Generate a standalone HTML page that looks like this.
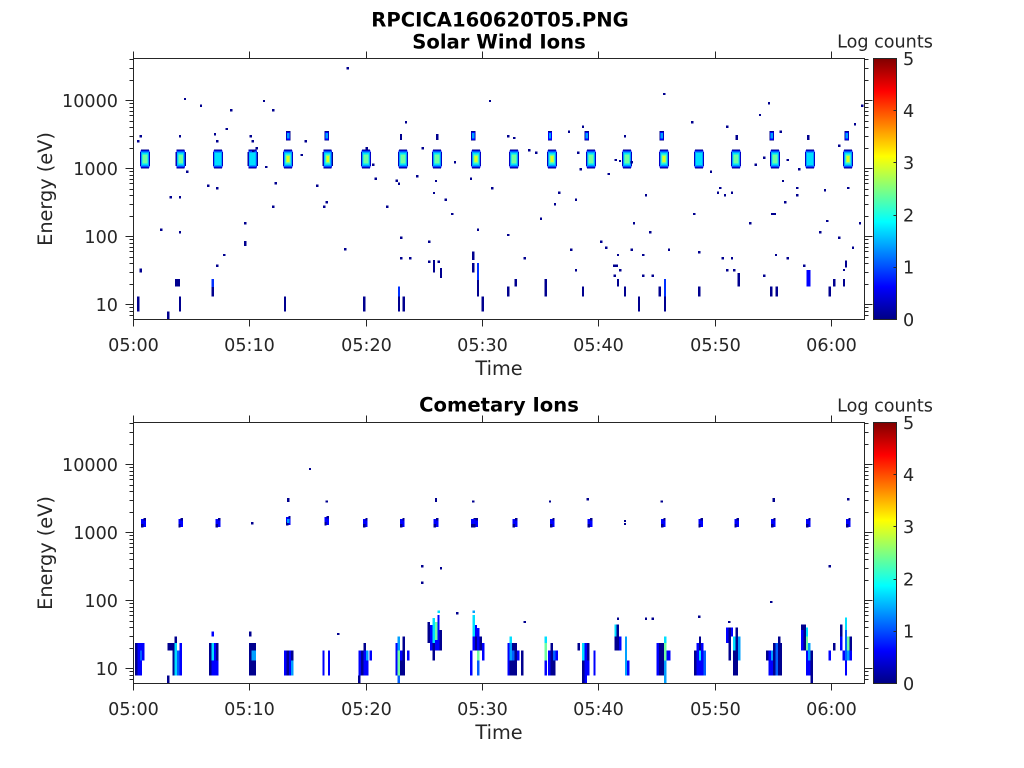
<!DOCTYPE html>
<html>
<head>
<meta charset="utf-8">
<style>
html,body{margin:0;padding:0;background:#fff;}
svg{display:block;}
text{font-family:"DejaVu Sans","Liberation Sans",sans-serif;fill:#262626;}
.tk{font-size:17.6px;}
.tb{font-size:19.6px;font-weight:bold;text-anchor:middle;fill:#000;}
.lb{font-size:19.3px;text-anchor:middle;}
.d{fill:#00008f}.b{fill:#0000ff}.m{fill:#0060ff}.l{fill:#00a0ff}.c{fill:#00e0ff}.g{fill:#70ffa0}.y{fill:#e0ff20}
</style>
</head>
<body>
<svg width="1024" height="768" viewBox="0 0 1024 768" xmlns="http://www.w3.org/2000/svg" shape-rendering="crispEdges">
<defs>
<linearGradient id="jet" x1="0" y1="1" x2="0" y2="0">
<stop offset="0" stop-color="#000084"/>
<stop offset="0.125" stop-color="#0000ff"/>
<stop offset="0.375" stop-color="#00ffff"/>
<stop offset="0.625" stop-color="#ffff00"/>
<stop offset="0.875" stop-color="#ff0000"/>
<stop offset="1" stop-color="#800000"/>
</linearGradient>
<g id="frame" fill="none" stroke="#262626" stroke-width="1">
<path d="M133.5 58.5H864.5V319.5H133.5Z"/>
<path d="M133.5 319.5v7M249.5 319.5v7M366.5 319.5v7M482.5 319.5v7M598.5 319.5v7M715.5 319.5v7M831.5 319.5v7M133.5 58.5v-7M249.5 58.5v-7M366.5 58.5v-7M482.5 58.5v-7M598.5 58.5v-7M715.5 58.5v-7M831.5 58.5v-7"/>
<path d="M125.5 100.5h8M125.5 168.5h8M125.5 236.5h8M125.5 304.5h8M864.5 100.5h8M864.5 168.5h8M864.5 236.5h8M864.5 304.5h8"/>
<path d="M129.5 59.5h4M129.5 68.5h4M129.5 80.5h4M129.5 103.5h4M129.5 107.5h4M129.5 111.5h4M129.5 115.5h4M129.5 121.5h4M129.5 127.5h4M129.5 136.5h4M129.5 148.5h4M129.5 171.5h4M129.5 175.5h4M129.5 179.5h4M129.5 183.5h4M129.5 189.5h4M129.5 195.5h4M129.5 204.5h4M129.5 216.5h4M129.5 239.5h4M129.5 243.5h4M129.5 247.5h4M129.5 251.5h4M129.5 257.5h4M129.5 263.5h4M129.5 272.5h4M129.5 284.5h4M129.5 307.5h4M129.5 311.5h4M129.5 315.5h4"/>
<path d="M864.5 59.5h4M864.5 68.5h4M864.5 80.5h4M864.5 103.5h4M864.5 107.5h4M864.5 111.5h4M864.5 115.5h4M864.5 121.5h4M864.5 127.5h4M864.5 136.5h4M864.5 148.5h4M864.5 171.5h4M864.5 175.5h4M864.5 179.5h4M864.5 183.5h4M864.5 189.5h4M864.5 195.5h4M864.5 204.5h4M864.5 216.5h4M864.5 239.5h4M864.5 243.5h4M864.5 247.5h4M864.5 251.5h4M864.5 257.5h4M864.5 263.5h4M864.5 272.5h4M864.5 284.5h4M864.5 307.5h4M864.5 311.5h4M864.5 315.5h4"/>
</g>
<g id="cbar">
<rect x="873.5" y="58.5" width="23" height="261" fill="url(#jet)" stroke="#262626" stroke-width="1"/>
<path d="M893.5 110.5h3M893.5 162.5h3M893.5 215.5h3M893.5 267.5h3" stroke="#262626" stroke-width="1"/>
</g>
<g id="cc">
<rect x="-4" y="149.5" width="8" height="19" class="d"/>
<rect x="-5.2" y="152" width="10.4" height="14" class="d"/>
<rect x="-4.4" y="150.5" width="8.8" height="17" class="b"/>
<rect x="-3.8" y="151.5" width="7.6" height="15" class="l"/>
<rect x="-3" y="153" width="6" height="12" class="c"/>
</g>
<g id="cg"><use href="#cc"/><rect x="-2.4" y="154.5" width="4.8" height="9" class="g"/></g>
<g id="cy"><use href="#cg"/><rect x="-1.4" y="156" width="2.8" height="6" class="y"/></g>
<g id="sb">
<rect x="-2.2" y="131" width="4.4" height="9.5" class="d"/>
<rect x="-1.8" y="131.8" width="3.6" height="8" class="b"/>
<rect x="-1.2" y="133" width="2.4" height="5.5" class="l"/>
</g>
<g id="ub">
<rect x="-2.4" y="519" width="4.8" height="8" class="b"/>
<rect x="-2.4" y="524" width="2.4" height="3.5" class="d"/>
<rect x="0" y="518" width="2.4" height="2.4" class="d"/>
</g>
</defs>

<!-- Titles -->
<text x="500" y="26.5" class="tb">RPCICA160620T05.PNG</text>
<text x="499" y="48.5" class="tb">Solar Wind Ions</text>
<text x="499" y="411.5" class="tb">Cometary Ions</text>
<text x="885" y="47.5" class="tk" text-anchor="middle">Log counts</text>
<text x="885" y="411.5" class="tk" text-anchor="middle">Log counts</text>

<!-- ===== TOP DATA ===== -->
<use href="#cg" x="145"/><use href="#cg" x="180.7"/><use href="#cc" x="218"/><use href="#cc" x="252.7"/>
<use href="#cy" x="288"/><use href="#cy" x="327.7"/><use href="#cg" x="366"/><use href="#cg" x="403"/>
<use href="#cg" x="437"/><use href="#cy" x="476"/><use href="#cg" x="514"/><use href="#cy" x="552"/>
<use href="#cg" x="591"/><use href="#cg" x="627"/><use href="#cy" x="664"/><use href="#cc" x="699"/>
<use href="#cg" x="736"/><use href="#cg" x="775"/><use href="#cc" x="810"/><use href="#cy" x="848"/>
<use href="#sb" x="288.3"/><use href="#sb" x="326.7"/><use href="#sb" x="473.3"/><use href="#sb" x="550"/>
<use href="#sb" x="586.7"/><use href="#sb" x="661.7"/><use href="#sb" x="771.7"/><use href="#sb" x="846.7"/>

<path fill="none" stroke="#00008f" stroke-width="2.4" stroke-linecap="square" d="M185 99h.01M201 105.7h.01M231.3 110.3h.01M264 101h.01M273.3 110.3h.01M226.7 129h.01M406 122.3h.01M490 101h.01M347.7 68.3h.01M140.7 136.3h.01M138.3 141.3h.01M180 136.3h.01M215 134.3h.01M217.3 141.3h.01M250.7 136.3h.01M252.7 141.3h.01M305.7 141.3h.01M256.7 148.3h.01M253.3 150.7h.01M366.7 148.3h.01M422.7 148.3h.01M301.7 155h.01M455 162.3h.01M187.3 171.7h.01M266.3 167h.01M373.3 164.7h.01M375.7 178.7h.01M396.7 180.7h.01M399 183.7h.01M417.3 176.3h.01M436 181h.01M471 178.7h.01M492.3 188.3h.01M208.3 185.7h.01M217.3 188.3h.01M275.7 183.3h.01M317.3 185.7h.01M434 193h.01M170.7 197.3h.01M180 197.3h.01M445.7 199.7h.01M273.3 206.7h.01M324.3 206.7h.01M326.7 202.3h.01M387.3 206.7h.01M452.3 214h.01M245.3 223.3h.01M161.3 229.7h.01M180 232.3h.01M478 229.7h.01M401.3 237.7h.01M429.3 241.7h.01M345.3 249.3h.01M224.3 255h.01M401.3 258.3h.01M410.3 258.3h.01M217.3 265.7h.01M429.3 261.7h.01M438.7 261.7h.01
M664.3 94h.01M769 103.3h.01M760 115h.01M862.3 105.7h.01M855 124.3h.01M692.3 122.3h.01M727.3 126.7h.01M583 126.7h.01M569 131.7h.01M780.7 131.7h.01M508.3 136.3h.01M514.3 138h.01M625 136.3h.01M839.3 145.7h.01M529.3 150.3h.01M536.3 152.7h.01M578.3 152.7h.01M615.7 160h.01M620 161h.01M631.7 162.3h.01M755.7 164.7h.01M764.3 157.7h.01M787.7 160h.01M799.3 169.3h.01M711 171.7h.01M580.7 169.3h.01M608.7 174h.01M783 181h.01M720.3 188h.01M718 192.7h.01M725 195.3h.01M732 192.7h.01M797.3 188h.01M797.3 195.3h.01M825 190.3h.01M848.3 188h.01M559.3 192.7h.01M555 204.3h.01M576 199.7h.01M646 195.3h.01M785.3 202.3h.01M694.3 214h.01M772.3 214h2.4M541 218.7h.01M634 223.3h.01M750.3 223.3h.01M827.3 221h.01M860 223.3h.01M508.3 235h.01M650.3 232.3h.01M820.3 232.3h.01M839.3 237.7h.01M601.3 241.7h.01M606.3 247.7h.01M571.3 249.7h.01M631.7 249.7h.01M669 249.7h.01M853 247.7h.01M524.7 258.3h.01M618 255h.01M643.3 255h.01M699.3 252.3h.01M722.7 258.3h.01M732 258.3h.01M776 255h.01M787.7 258.3h.01M614.3 265.7h2.4M576 270.3h.01M620.3 270.3h.01M614.7 275.7h.01M643.3 275.7h.01M652.7 275.7h.01M727.3 270.3h.01M734.3 270.3h.01M764.3 275.7h.01M804.3 265.7h.01M844 270h.01"/>

<path fill="none" stroke="#00008f" stroke-width="2.4" d="M245.3 241V246M434 260V272.7M441 268V278M473.3 251.7V260M473.3 263V272.7M478 280V296.7M140.7 268.3V272.7M212.7 287V296.7M138.3 296.7V311.7M180 296.7V311.7M168.3 311.7V319M285 296.7V311.7M364.3 296.7V311.7M399 296.7V311.7M403.7 296.7V311.7M482.7 296.7V311.7M846 260.7V267.7M738.7 273V286.7M515.7 279V286.7M618 279V286.7M834.3 279V286.7M844 279V286.7M508.3 286.7V296.7M545.7 279V296.7M583 286.7V296.7M625 286.7V296.7M659.7 286.7V296.7M665 296.7V311.7M639 296.7V311.7M699.3 286.7V296.7M771.3 286.7V296.7M776.7 286.7V296.7M829.7 286.7V296.7M401 134V140M437.3 134V140M736.7 135V140M808.3 135V140"/>
<path fill="none" stroke="#0030ff" stroke-width="2.4" d="M478 263V280M212.7 279V287M399 286.7V296.7M665 279V296.7"/>
<path fill="none" stroke="#0000ff" stroke-width="3.6" d="M808.5 270V286.7"/>
<rect x="175.2" y="279" width="4.8" height="7.7" class="d"/>

<!-- ===== BOTTOM DATA ===== -->
<use href="#ub" x="143.5"/><use href="#ub" x="180.7"/><use href="#ub" x="218"/><use href="#ub" x="288.3" y="-2"/>
<use href="#ub" x="326.7" y="-2"/><use href="#ub" x="365.3"/><use href="#ub" x="402.3"/><use href="#ub" x="436"/>
<use href="#ub" x="473.3"/><use href="#ub" x="475.7"/><use href="#ub" x="515"/><use href="#ub" x="552.3"/>
<use href="#ub" x="590"/><use href="#ub" x="663.3"/><use href="#ub" x="700.7"/><use href="#ub" x="736.7"/>
<use href="#ub" x="773.3"/><use href="#ub" x="808.3"/><use href="#ub" x="848.3"/>
<rect x="287.1" y="519" width="2.4" height="4" class="l"/>

<path fill="none" stroke="#00008f" stroke-width="2.4" stroke-linecap="square" d="M310 469h.01M422.3 566.3h.01M441 568.3h.01M422.3 582.7h.01M338.3 634h.01M457.3 613.3h.01M524.7 622h.01M618 618.7h.01M646 618.7h.01M652.7 618.7h.01M699.3 616.7h.01M729.3 622h.01M829.7 566.3h.01M771.3 602h.01M288.3 499h.01M326.7 501.5h.01M436 499h.01M473.3 501.5h.01M550 501.5h.01M587.7 499.3h.01M661.7 501.5h.01M773.7 499h.01M848.3 499.3h.01M252.3 523.3h.01M625 521h.01M625 524h.01M288.3 501h.01M436 501h.01M773.7 501h.01"/>

<!-- G1 -->
<rect class="d" x="135" y="643" width="2.4" height="32.7"/>
<rect class="b" x="137.4" y="643" width="2.4" height="32.7"/>
<rect class="b" x="139.8" y="643" width="2.4" height="7.7"/>
<rect class="m" x="139.8" y="650.7" width="2.4" height="10"/>
<rect class="b" x="139.8" y="660.7" width="2.4" height="15"/>
<rect class="b" x="142.2" y="643" width="2.4" height="17.7"/>
<!-- G2 -->
<rect class="d" x="167.3" y="643" width="5" height="7.7"/>
<rect class="d" x="172.3" y="643" width="2.4" height="32.7"/>
<rect class="c" x="174.7" y="643" width="2.4" height="32.7"/>
<rect class="d" x="174.7" y="636.7" width="2.4" height="6.3"/>
<rect class="m" x="177.1" y="650.7" width="2.4" height="25"/>
<rect class="b" x="179.5" y="643" width="2.4" height="32.7"/>
<rect class="d" x="167.1" y="675.7" width="2.4" height="7.6"/>
<!-- G3 -->
<rect class="d" x="209" y="643" width="2.4" height="32.7"/>
<rect class="c" x="211.4" y="643" width="2.4" height="17.7"/>
<rect class="b" x="211.4" y="660.7" width="2.4" height="15"/>
<rect class="b" x="211.4" y="631.7" width="2.4" height="5"/>
<rect class="b" x="213.8" y="643" width="2.4" height="32.7"/>
<rect class="d" x="216.2" y="643" width="2.4" height="17.7"/>
<rect class="b" x="216.2" y="660.7" width="2.4" height="15"/>
<!-- G4 -->
<rect class="d" x="249" y="643" width="2.4" height="32.7"/>
<rect class="d" x="251.4" y="643" width="4.6" height="32.7"/>
<rect class="l" x="251.4" y="650.7" width="4.6" height="10"/>
<rect class="d" x="249" y="631.7" width="2.4" height="5"/>
<!-- G5 -->
<rect class="b" x="284" y="650.7" width="2.4" height="25"/>
<rect class="d" x="286.4" y="650.7" width="2.4" height="25"/>
<rect class="b" x="288.8" y="650.7" width="2.4" height="25"/>
<rect class="d" x="291.2" y="650.7" width="2.4" height="10"/>
<rect class="l" x="291.2" y="660.7" width="2.4" height="15"/>
<!-- G6 -->
<rect class="b" x="322.5" y="650.7" width="2" height="25"/>
<rect class="b" x="327.8" y="650.7" width="2" height="25"/>
<!-- G7 -->
<rect class="b" x="358.7" y="650.7" width="2.4" height="25"/>
<rect class="d" x="361.1" y="650.7" width="2.4" height="25"/>
<rect class="d" x="363.5" y="643" width="2.4" height="7.7"/>
<rect class="b" x="363.5" y="650.7" width="2.4" height="25"/>
<rect class="l" x="365.9" y="650.7" width="2.4" height="10"/>
<rect class="b" x="365.9" y="660.7" width="2.4" height="15"/>
<rect class="b" x="369.5" y="650.7" width="2.4" height="10"/>
<rect class="d" x="358.1" y="675.7" width="2.4" height="7.6"/>
<!-- G8 -->
<rect class="b" x="395.3" y="643" width="2.4" height="32.7"/>
<rect class="l" x="397.7" y="636.7" width="2.4" height="14"/>
<rect class="g" x="397.7" y="650.7" width="2.4" height="25"/>
<rect class="m" x="397.7" y="675.7" width="2.4" height="7.6"/>
<rect class="b" x="400.1" y="650.7" width="2.4" height="10"/>
<rect class="d" x="400.1" y="660.7" width="2.4" height="15"/>
<rect class="d" x="402.5" y="636.7" width="2.4" height="39"/>
<rect class="b" x="406.9" y="650.7" width="2.4" height="10"/>
<!-- G9 -->
<rect class="d" x="427.7" y="622" width="2.4" height="21"/>
<rect class="b" x="430.1" y="625" width="2.4" height="25.7"/>
<rect class="c" x="432.5" y="618" width="2.4" height="25"/>
<rect class="d" x="432.5" y="643" width="2.4" height="17.7"/>
<rect class="g" x="434.9" y="622" width="2.4" height="18"/>
<rect class="b" x="434.9" y="640" width="2.4" height="10.7"/>
<rect class="b" x="437.3" y="615" width="2.4" height="35.7"/>
<rect class="d" x="439.7" y="630" width="2.4" height="20.7"/>
<rect class="c" x="437.5" y="610.5" width="2.4" height="2.4"/>
<!-- G10 -->
<rect class="b" x="470" y="650.7" width="2.4" height="25"/>
<rect class="c" x="472.4" y="615" width="2.4" height="21.7"/>
<rect class="b" x="472.4" y="636.7" width="2.4" height="14"/>
<rect class="b" x="474.8" y="625" width="2.4" height="11.7"/>
<rect class="d" x="474.8" y="636.7" width="2.4" height="14"/>
<rect class="b" x="477.2" y="628" width="2.4" height="22.7"/>
<rect class="g" x="477.2" y="650.7" width="2.4" height="10"/>
<rect class="m" x="477.2" y="660.7" width="2.4" height="15"/>
<rect class="d" x="479.6" y="636.7" width="2.4" height="14"/>
<rect class="b" x="482" y="643" width="2.4" height="17.7"/>
<rect class="l" x="472.4" y="610.5" width="2.4" height="2.4"/>
<!-- A -->
<rect class="b" x="507.3" y="643" width="2.4" height="32.7"/>
<rect class="c" x="509.7" y="636.7" width="2.4" height="6.3"/>
<rect class="l" x="509.7" y="643" width="2.4" height="17.7"/>
<rect class="d" x="509.7" y="660.7" width="2.4" height="15"/>
<rect class="d" x="512.1" y="643" width="4.8" height="32.7"/>
<rect class="m" x="512.1" y="650.7" width="2.4" height="10"/>
<rect class="b" x="516.9" y="650.7" width="2.4" height="10"/>
<rect class="d" x="521" y="650.7" width="2.4" height="25"/>
<!-- B -->
<rect class="c" x="544.6" y="636.7" width="2.4" height="6.3"/>
<rect class="g" x="544.6" y="643" width="2.4" height="17.7"/>
<rect class="b" x="544.6" y="660.7" width="2.4" height="15"/>
<rect class="b" x="548.2" y="650.7" width="2.4" height="25"/>
<rect class="d" x="550.6" y="643" width="2.4" height="32.7"/>
<rect class="m" x="553" y="650.7" width="2.4" height="10"/>
<rect class="d" x="553" y="660.7" width="2.4" height="15"/>
<rect class="b" x="555.4" y="650.7" width="2.4" height="10"/>
<!-- C -->
<rect class="d" x="577.6" y="643" width="2.4" height="7.7"/>
<rect class="c" x="582.2" y="643" width="2.4" height="17.7"/>
<rect class="d" x="582.2" y="660.7" width="2.4" height="22.6"/>
<rect class="b" x="584.6" y="643" width="2.4" height="40.3"/>
<rect class="d" x="587" y="643" width="2.4" height="17.7"/>
<rect class="b" x="587" y="660.7" width="2.4" height="15"/>
<rect class="b" x="593.3" y="650.7" width="2.4" height="25"/>
<!-- D -->
<rect class="c" x="614.3" y="624.3" width="2.4" height="12.4"/>
<rect class="d" x="614.3" y="636.7" width="2.4" height="14"/>
<rect class="d" x="616.7" y="624.3" width="2.4" height="26.4"/>
<rect class="b" x="619.1" y="636.7" width="2.4" height="14"/>
<rect class="l" x="624.8" y="636.7" width="2.4" height="39"/>
<rect class="b" x="627.2" y="660.7" width="2.4" height="15"/>
<!-- E -->
<rect class="b" x="656.7" y="643" width="2.4" height="32.7"/>
<rect class="d" x="659.1" y="643" width="4.8" height="32.7"/>
<rect class="c" x="663.9" y="636.7" width="2.4" height="6.3"/>
<rect class="g" x="663.9" y="643" width="2.4" height="17.7"/>
<rect class="l" x="663.9" y="660.7" width="2.4" height="22.6"/>
<rect class="b" x="666.3" y="650.7" width="4" height="10"/>
<!-- F -->
<rect class="d" x="694" y="650.7" width="2.4" height="25"/>
<rect class="b" x="696.4" y="643" width="2.4" height="32.7"/>
<rect class="d" x="698.8" y="636.7" width="2.4" height="14"/>
<rect class="c" x="698.8" y="650.7" width="2.4" height="10"/>
<rect class="b" x="698.8" y="660.7" width="2.4" height="15"/>
<rect class="b" x="701.2" y="643" width="2.4" height="32.7"/>
<rect class="m" x="703.6" y="650.7" width="2.4" height="25"/>
<!-- G -->
<rect class="b" x="726" y="627.7" width="2.4" height="15.3"/>
<rect class="d" x="728.4" y="627.7" width="2.4" height="33"/>
<rect class="b" x="730.8" y="627.7" width="2.4" height="9"/>
<rect class="c" x="733.2" y="636.7" width="2.4" height="14"/>
<rect class="d" x="735.6" y="627.7" width="2.4" height="23"/>
<rect class="l" x="738" y="636.7" width="2.4" height="24"/>
<rect class="d" x="733.2" y="650.7" width="4.8" height="25"/>
<!-- H -->
<rect class="d" x="766" y="650.7" width="2.4" height="10"/>
<rect class="b" x="768.4" y="650.7" width="2.4" height="25"/>
<rect class="l" x="770.8" y="650.7" width="2.4" height="10"/>
<rect class="b" x="770.8" y="660.7" width="2.4" height="15"/>
<rect class="d" x="773.2" y="643" width="2.4" height="32.7"/>
<rect class="m" x="775.6" y="643" width="2.4" height="32.7"/>
<rect class="d" x="778" y="636.7" width="2.4" height="39"/>
<rect class="d" x="780.4" y="643" width="1.8" height="32.7"/>
<!-- I -->
<rect class="d" x="801" y="624.3" width="2.4" height="5.7"/>
<rect class="b" x="801" y="630" width="2.4" height="20.7"/>
<rect class="d" x="803.4" y="624.3" width="2.4" height="26.4"/>
<rect class="c" x="805.8" y="627.7" width="2.4" height="9"/>
<rect class="g" x="805.8" y="636.7" width="2.4" height="14"/>
<rect class="b" x="805.8" y="650.7" width="2.4" height="25"/>
<rect class="l" x="808.2" y="643" width="2.4" height="17.7"/>
<rect class="b" x="808.2" y="660.7" width="2.4" height="15"/>
<rect class="d" x="810.6" y="650.7" width="2.4" height="32.6"/>
<!-- J -->
<rect class="b" x="828.5" y="650.7" width="2.4" height="10"/>
<rect class="d" x="833.1" y="643" width="2.4" height="7.7"/>
<!-- K -->
<rect class="d" x="840" y="624.3" width="2.4" height="12.4"/>
<rect class="b" x="840" y="636.7" width="2.4" height="14"/>
<rect class="b" x="842.4" y="650.7" width="2.4" height="10"/>
<rect class="c" x="844.8" y="617.7" width="2.4" height="12.3"/>
<rect class="m" x="844.8" y="630" width="2.4" height="30.7"/>
<rect class="b" x="844.8" y="660.7" width="2.4" height="15"/>
<rect class="g" x="847.2" y="636.7" width="2.4" height="14"/>
<rect class="l" x="847.2" y="650.7" width="2.4" height="10"/>
<rect class="d" x="849.6" y="636.7" width="2.4" height="14"/>
<rect class="b" x="849.6" y="650.7" width="2.4" height="10"/>

<!-- ===== FRAMES ===== -->
<use href="#frame"/>
<use href="#frame" y="364"/>
<use href="#cbar"/>
<use href="#cbar" y="364"/>

<!-- ===== TICK LABELS ===== -->
<g class="tk" text-anchor="end">
<text x="118" y="106.8">10000</text>
<text x="118" y="174.8">1000</text>
<text x="118" y="242.8">100</text>
<text x="118" y="310.8">10</text>
<text x="118" y="470.8">10000</text>
<text x="118" y="538.8">1000</text>
<text x="118" y="606.8">100</text>
<text x="118" y="674.8">10</text>
</g>
<g class="tk" text-anchor="middle">
<text x="133.5" y="351">05:00</text>
<text x="249.5" y="351">05:10</text>
<text x="366.5" y="351">05:20</text>
<text x="482.5" y="351">05:30</text>
<text x="598.5" y="351">05:40</text>
<text x="715.5" y="351">05:50</text>
<text x="831.5" y="351">06:00</text>
<text x="133.5" y="715">05:00</text>
<text x="249.5" y="715">05:10</text>
<text x="366.5" y="715">05:20</text>
<text x="482.5" y="715">05:30</text>
<text x="598.5" y="715">05:40</text>
<text x="715.5" y="715">05:50</text>
<text x="831.5" y="715">06:00</text>
</g>
<g class="tk">
<text x="903" y="64.8">5</text>
<text x="903" y="117">4</text>
<text x="903" y="169.2">3</text>
<text x="903" y="221.4">2</text>
<text x="903" y="273.6">1</text>
<text x="903" y="325.8">0</text>
<text x="903" y="428.8">5</text>
<text x="903" y="481">4</text>
<text x="903" y="533.2">3</text>
<text x="903" y="585.4">2</text>
<text x="903" y="637.6">1</text>
<text x="903" y="689.8">0</text>
</g>
<text x="499" y="375" class="lb">Time</text>
<text x="499" y="739" class="lb">Time</text>
<text transform="translate(52,189) rotate(-90)" class="lb">Energy (eV)</text>
<text transform="translate(52,553) rotate(-90)" class="lb">Energy (eV)</text>
</svg>
</body>
</html>
